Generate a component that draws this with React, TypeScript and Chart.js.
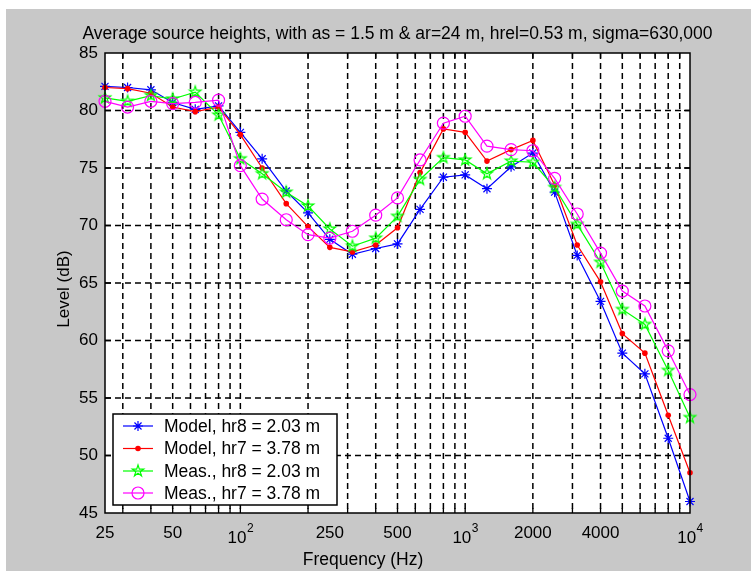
import React, { useEffect, useRef } from 'react';
import { Chart, registerables } from 'chart.js';

Chart.register(...registerables);

// ---------- data ----------
const FREQUENCIES = [25, 31.5, 40, 50, 63, 80, 100, 125, 160, 200, 250, 315, 400, 500, 630, 800, 1000, 1250, 1600, 2000, 2500, 3150, 4000, 5000, 6300, 8000, 10000];
const MODEL_HR8 = [82.1, 82.0, 81.8, 80.7, 80.1, 80.4, 78.1, 75.8, 73.0, 71.1, 68.8, 67.5, 68.0, 68.4, 71.4, 74.2, 74.4, 73.2, 75.1, 76.3, 72.9, 67.4, 63.4, 58.9, 57.1, 51.5, 46.0];
const MODEL_HR7 = [82.0, 81.9, 81.5, 80.3, 79.9, 80.3, 77.9, 75.0, 71.9, 69.9, 68.1, 67.7, 68.3, 69.8, 74.6, 78.4, 78.1, 75.6, 76.6, 77.4, 73.5, 68.3, 65.1, 60.6, 58.9, 53.5, 48.5];
const MEAS_HR8 = [81.1, 80.8, 81.3, 81.0, 81.6, 79.6, 75.8, 74.5, 72.9, 71.7, 69.7, 68.2, 68.9, 70.8, 74.0, 75.9, 75.7, 74.5, 75.6, 75.5, 73.3, 70.1, 66.8, 62.7, 61.4, 57.4, 53.3];
const MEAS_HR7 = [80.8, 80.3, 80.8, 80.6, 80.7, 80.9, 75.2, 72.3, 70.5, 69.2, 68.9, 69.5, 70.9, 72.4, 75.7, 78.9, 79.5, 76.9, 76.6, 76.5, 74.1, 71.0, 67.6, 64.3, 63.0, 59.1, 55.3];

const SERIES_LABELS = ['Model, hr8 = 2.03 m', 'Model, hr7 = 3.78 m', 'Meas., hr8 = 2.03 m', 'Meas., hr7 = 3.78 m'];
const SERIES_COLORS = ['#0000ff', '#ff0000', '#00ff00', '#ff00ff'];
const SERIES_MARKERS = ['star', 'dot', 'pentagram', 'circle'];

const X_TICK_VALUES = [25, 50, 100, 250, 500, 1000, 2000, 4000, 10000];
const X_TICK_BASES = ['25', '50', '10', '250', '500', '10', '2000', '4000', '10'];
const X_TICK_EXPONENTS = ['', '', '2', '', '', '3', '', '', '4'];

const X_MIN = 25;
const X_MAX = 10000;
const Y_MIN = 45;
const Y_MAX = 85;
const Y_STEP = 5;

const TITLE = 'Average source heights, with as = 1.5 m & ar=24 m, hrel=0.53 m, sigma=630,000';
const X_TITLE = 'Frequency (Hz)';
const Y_TITLE = 'Level (dB)';

// ---------- styling ----------
const W = 751;
const H = 571;
const FONT = "'Liberation Sans', Arial, Helvetica, sans-serif";
const FIG_BG = 'rgb(200,200,200)';

function makePentagram(color: string, R: number): HTMLCanvasElement {
  const size = Math.ceil(R * 2 + 4);
  const c = document.createElement('canvas');
  c.width = size;
  c.height = size;
  const g = c.getContext('2d')!;
  g.strokeStyle = color;
  g.lineWidth = 1.2;
  g.beginPath();
  const r = R * 0.382;
  for (let k = 0; k < 10; k++) {
    const ang = -Math.PI / 2 + (k * Math.PI) / 5;
    const rr = k % 2 === 0 ? R : r;
    const px = size / 2 + rr * Math.cos(ang);
    const py = size / 2 + rr * Math.sin(ang);
    if (k === 0) g.moveTo(px, py);
    else g.lineTo(px, py);
  }
  g.closePath();
  g.stroke();
  return c;
}

function gridValues(): number[] {
  const out: number[] = [];
  for (let d = 10; d <= 10000; d *= 10) {
    for (let m = 1; m <= 9; m++) {
      const v = m * d;
      if (v > X_MIN && v < X_MAX) out.push(v);
    }
  }
  return out;
}

function drawMarker(ctx: CanvasRenderingContext2D, kind: string, color: string, x: number, y: number, penta: HTMLCanvasElement) {
  ctx.save();
  ctx.strokeStyle = color;
  ctx.fillStyle = color;
  ctx.lineWidth = 1.2;
  if (kind === 'star') {
    const r = 5;
    const d = r * Math.SQRT1_2;
    ctx.beginPath();
    ctx.moveTo(x - r, y); ctx.lineTo(x + r, y);
    ctx.moveTo(x, y - r); ctx.lineTo(x, y + r);
    ctx.moveTo(x - d, y - d); ctx.lineTo(x + d, y + d);
    ctx.moveTo(x - d, y + d); ctx.lineTo(x + d, y - d);
    ctx.stroke();
  } else if (kind === 'dot') {
    ctx.beginPath();
    ctx.arc(x, y, 2.8, 0, Math.PI * 2);
    ctx.fill();
  } else if (kind === 'pentagram') {
    ctx.drawImage(penta, x - penta.width / 2, y - penta.height / 2);
  } else {
    ctx.beginPath();
    ctx.arc(x, y, 6, 0, Math.PI * 2);
    ctx.stroke();
  }
  ctx.restore();
}

export default function App() {
  const ref = useRef<HTMLCanvasElement>(null);

  useEffect(() => {
    const canvas = ref.current!;
    const penta = makePentagram('#00ff00', 6);
    const series = [MODEL_HR8, MODEL_HR7, MEAS_HR8, MEAS_HR7];

    const pointStyles: any[] = ['star', 'circle', penta, 'circle'];
    const pointRadii = [5, 2.8, 6, 6];
    const pointFills = ['#0000ff', '#ff0000', 'rgba(0,0,0,0)', 'rgba(0,0,0,0)'];
    const pointBorderWidths = [1.2, 0, 1.2, 1.2];

    const datasets = series.map((vals, i) => ({
      label: SERIES_LABELS[i],
      data: FREQUENCIES.map((f, k) => ({ x: f, y: vals[k] })),
      borderColor: SERIES_COLORS[i],
      backgroundColor: SERIES_COLORS[i],
      borderWidth: 1.2,
      pointStyle: pointStyles[i],
      pointRadius: pointRadii[i],
      pointBackgroundColor: pointFills[i],
      pointBorderColor: SERIES_COLORS[i],
      pointBorderWidth: pointBorderWidths[i],
      tension: 0,
      fill: false,
      clip: false as any,
      order: 4 - i,
    }));

    const figurePlugin = {
      id: 'figure',
      beforeDraw(chart: any) {
        const ctx: CanvasRenderingContext2D = chart.ctx;
        const ca = chart.chartArea;
        ctx.save();
        ctx.fillStyle = '#ffffff';
        ctx.fillRect(0, 0, W, H);
        ctx.fillStyle = FIG_BG;
        ctx.fillRect(6, 9, W - 6, H - 9);
        ctx.fillStyle = '#ffffff';
        ctx.fillRect(ca.left, ca.top, ca.right - ca.left, ca.bottom - ca.top);
        ctx.restore();
      },
      beforeDatasetsDraw(chart: any) {
        const ctx: CanvasRenderingContext2D = chart.ctx;
        const ca = chart.chartArea;
        const xs = chart.scales.x;
        const ys = chart.scales.y;
        ctx.save();
        ctx.strokeStyle = '#000';
        ctx.lineWidth = 1.5;
        ctx.setLineDash([6, 4]);
        for (const v of gridValues()) {
          const px = xs.getPixelForValue(v);
          ctx.beginPath();
          ctx.moveTo(px, ca.top);
          ctx.lineTo(px, ca.bottom);
          ctx.stroke();
        }
        for (let v = Y_MIN + Y_STEP; v < Y_MAX; v += Y_STEP) {
          const py = ys.getPixelForValue(v);
          ctx.beginPath();
          ctx.moveTo(ca.left, py);
          ctx.lineTo(ca.right, py);
          ctx.stroke();
        }
        ctx.setLineDash([]);
        ctx.lineWidth = 1.3;
        for (const v of gridValues()) {
          const px = xs.getPixelForValue(v);
          ctx.beginPath();
          ctx.moveTo(px, ca.bottom);
          ctx.lineTo(px, ca.bottom - 5);
          ctx.moveTo(px, ca.top);
          ctx.lineTo(px, ca.top + 5);
          ctx.stroke();
        }
        for (let v = Y_MIN + Y_STEP; v < Y_MAX; v += Y_STEP) {
          const py = ys.getPixelForValue(v);
          ctx.beginPath();
          ctx.moveTo(ca.left, py);
          ctx.lineTo(ca.left + 6, py);
          ctx.moveTo(ca.right, py);
          ctx.lineTo(ca.right - 6, py);
          ctx.stroke();
        }
        ctx.restore();
      },
      afterDatasetsDraw(chart: any) {
        const ctx: CanvasRenderingContext2D = chart.ctx;
        const ca = chart.chartArea;
        ctx.save();
        // axes box
        ctx.strokeStyle = '#000';
        ctx.lineWidth = 1.5;
        ctx.strokeRect(ca.left, ca.top, ca.right - ca.left, ca.bottom - ca.top);

        // legend
        const lx = 113, ly = 414, lw = 224, lh = 91;
        ctx.fillStyle = '#ffffff';
        ctx.fillRect(lx, ly, lw, lh);
        ctx.lineWidth = 1.5;
        ctx.strokeStyle = '#000';
        ctx.strokeRect(lx, ly, lw, lh);
        ctx.font = `17.5px ${FONT}`;
        ctx.textAlign = 'left';
        ctx.textBaseline = 'middle';
        const rowY = [426, 448.5, 471, 493];
        SERIES_LABELS.forEach((lab, i) => {
          const y = rowY[i];
          ctx.strokeStyle = SERIES_COLORS[i];
          ctx.lineWidth = 1.2;
          ctx.beginPath();
          ctx.moveTo(123, y);
          ctx.lineTo(153, y);
          ctx.stroke();
          drawMarker(ctx, SERIES_MARKERS[i], SERIES_COLORS[i], 138, y, penta);
          ctx.fillStyle = '#000';
          ctx.fillText(lab, 164, y + 1);
        });
        ctx.restore();
      },
      afterDraw(chart: any) {
        const ctx: CanvasRenderingContext2D = chart.ctx;
        const ca = chart.chartArea;
        const xs = chart.scales.x;
        ctx.save();
        ctx.fillStyle = '#000';
        ctx.textBaseline = 'alphabetic';
        // x tick labels
        X_TICK_VALUES.forEach((v, i) => {
          const px = xs.getPixelForValue(v);
          const base = X_TICK_BASES[i];
          const exp = X_TICK_EXPONENTS[i];
          ctx.font = `17px ${FONT}`;
          if (!exp) {
            ctx.textAlign = 'center';
            ctx.fillText(base, px, ca.bottom + 25);
          } else {
            const wb = ctx.measureText(base).width;
            ctx.font = `12px ${FONT}`;
            const we = ctx.measureText(exp).width;
            const start = px - (wb + we) / 2;
            ctx.textAlign = 'left';
            ctx.font = `17px ${FONT}`;
            ctx.fillText(base, start, ca.bottom + 30);
            ctx.font = `12px ${FONT}`;
            ctx.fillText(exp, start + wb + 0.5, ca.bottom + 19);
          }
        });
        // title
        ctx.font = `17.5px ${FONT}`;
        ctx.textAlign = 'center';
        ctx.fillText(TITLE, (ca.left + ca.right) / 2, 38.5);
        // x title
        ctx.fillText(X_TITLE, 363, 565);
        // y title
        ctx.translate(69, 289);
        ctx.rotate(-Math.PI / 2);
        ctx.font = `17px ${FONT}`;
        ctx.fillText(Y_TITLE, 0, 0);
        ctx.restore();
      },
    };

    const chart = new Chart(canvas, {
      type: 'line',
      data: { datasets: datasets as any },
      options: {
        responsive: false,
        animation: false,
        devicePixelRatio: 1,
        events: [],
        layout: { padding: { top: 53, right: 61, bottom: 0, left: 0 } },
        plugins: {
          legend: { display: false },
          tooltip: { enabled: false },
          title: { display: false },
        },
        scales: {
          x: {
            type: 'logarithmic',
            min: X_MIN,
            max: X_MAX,
            position: 'bottom',
            grid: { display: false, drawTicks: false },
            border: { display: false },
            ticks: { display: false },
            afterFit: (s: any) => { s.height = 58; },
          },
          y: {
            type: 'linear',
            min: Y_MIN,
            max: Y_MAX,
            position: 'left',
            grid: { display: false, drawTicks: false },
            border: { display: false },
            ticks: {
              stepSize: Y_STEP,
              padding: 7,
              color: '#000',
              font: { family: FONT, size: 17 },
            },
            afterFit: (s: any) => { s.width = 105; },
          },
        },
      } as any,
      plugins: [figurePlugin],
    });

    return () => chart.destroy();
  }, []);

  return (
    <div style={{ position: 'fixed', left: 0, top: 0, width: W, height: H }}>
      <canvas ref={ref} width={W} height={H} style={{ display: 'block', width: W, height: H }} />
    </div>
  );
}
